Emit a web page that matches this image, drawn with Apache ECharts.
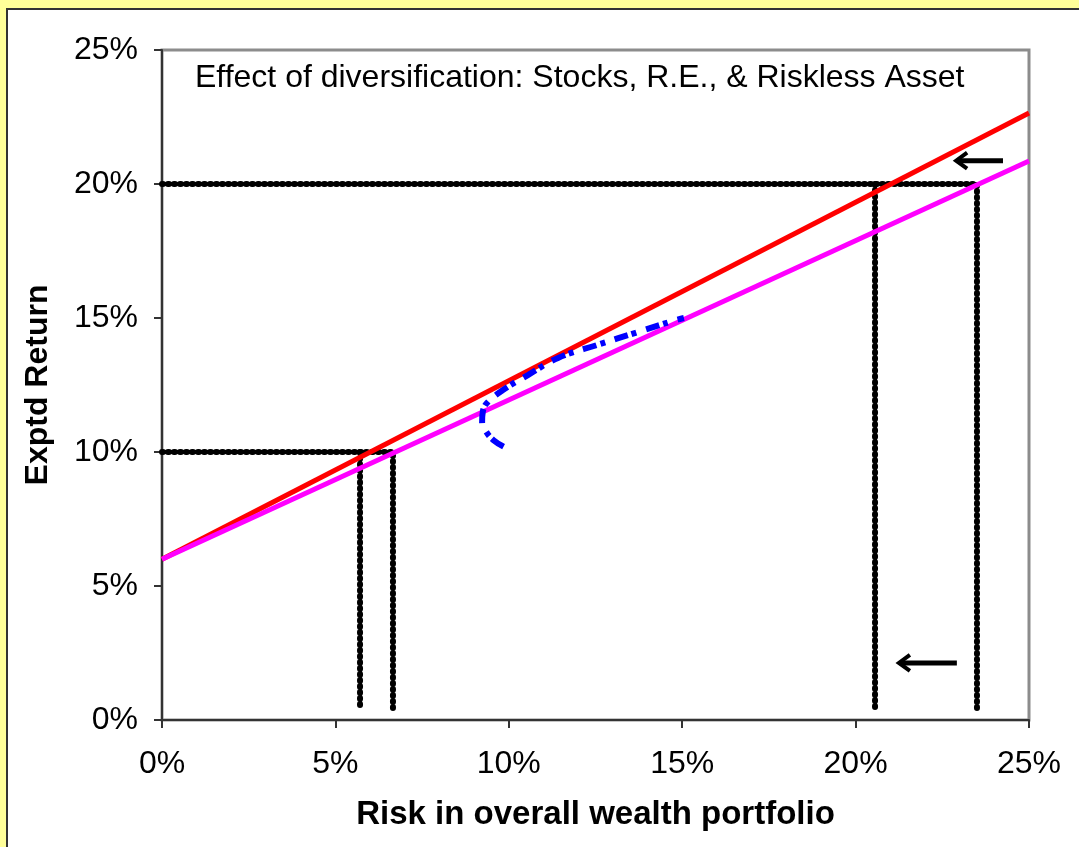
<!DOCTYPE html>
<html>
<head>
<meta charset="utf-8">
<script src="https://cdn.jsdelivr.net/npm/echarts@6/dist/echarts.min.js"></script>
<style>
  html, body { margin: 0; padding: 0; background: #ffff99; }
  #chart { width: 1079px; height: 847px; }
</style>
</head>
<body>
<div id="chart"></div>
<script>
// risk (%) on x, expected return (%) on y
const redLine = [[0, 6], [25, 22.65]];
const magentaLine = [[0, 6], [25, 20.86]];
const frontier = [[9.85, 10.2], [9.55, 10.45], [9.35, 10.75], [9.23, 11.1], [9.25, 11.5], [9.37, 11.83],
  [9.83, 12.31], [10.55, 12.87], [11.42, 13.51], [12.54, 13.99], [13.73, 14.48], [14.73, 14.89], [15.05, 15.0]];
const guide10a = [[0, 10], [6.66, 10], [6.66, 0.45]];
const guide10b = [[5.71, 10], [5.71, 0.45]];
const guide20a = [[0, 20], [23.5, 20], [23.5, 0.45]];
const guide20b = [[20.56, 20], [20.56, 0.45]];
// [tail x, tip x, y]
const arrows = [[24.25, 22.87, 20.87], [22.92, 21.22, 2.13]];

const titleText = 'Effect of diversification: Stocks, R.E., & Riskless Asset';
const xName = 'Risk in overall wealth portfolio';
const yName = 'Exptd Return';

const FONT = '"Liberation Sans", Arial, sans-serif';

const chart = echarts.init(document.getElementById('chart'));

function dotted(data) {
  return {
    type: 'line', data: data, symbol: 'none', silent: true, z: 3,
    lineStyle: { color: '#000', width: 6, type: [1, 5], cap: 'round' }
  };
}

chart.setOption({
  backgroundColor: '#ffff99',
  animation: false,
  graphic: [{
    type: 'rect', z: -10,
    shape: { x: 7, y: 9, width: 1100, height: 900 },
    style: { fill: '#fff', stroke: '#333', lineWidth: 2 }
  }],
  title: {
    text: titleText, left: 195, top: 62, padding: 0,
    textStyle: { fontFamily: FONT, fontSize: 32, fontWeight: 'normal', color: '#000' }
  },
  grid: {
    left: 162, right: 50, top: 50, bottom: 127,
    show: true, borderColor: '#8c8c8c', borderWidth: 3
  },
  xAxis: {
    type: 'value', min: 0, max: 25, interval: 5,
    name: xName, nameLocation: 'middle', nameGap: 78,
    nameTextStyle: { fontFamily: FONT, fontSize: 33, fontWeight: 'bold', color: '#000' },
    axisLine: { lineStyle: { color: '#333', width: 2 } },
    axisTick: { length: 8, lineStyle: { color: '#333', width: 2 } },
    axisLabel: { margin: 28, formatter: '{value}%', fontFamily: FONT, fontSize: 32, color: '#000' },
    splitLine: { show: false }
  },
  yAxis: {
    type: 'value', min: 0, max: 25, interval: 5,
    name: yName, nameLocation: 'middle', nameGap: 108, nameRotate: 90,
    nameTextStyle: { fontFamily: FONT, fontSize: 32, fontWeight: 'bold', color: '#000' },
    axisLine: { show: true, lineStyle: { color: '#333', width: 2 } },
    axisTick: { show: true, length: 8, lineStyle: { color: '#333', width: 2 } },
    axisLabel: { margin: 24, formatter: '{value}%', fontFamily: FONT, fontSize: 32, color: '#000' },
    splitLine: { show: false }
  },
  series: [
    dotted(guide10a), dotted(guide10b), dotted(guide20a), dotted(guide20b),
    {
      type: 'line', data: redLine, symbol: 'none', z: 4,
      lineStyle: { color: '#ff0000', width: 5 }
    },
    {
      type: 'line', data: magentaLine, symbol: 'none', z: 4,
      lineStyle: { color: '#ff00ff', width: 5 }
    },
    {
      type: 'line', data: frontier, symbol: 'none', smooth: 0.4, z: 5,
      lineStyle: { color: '#0000ff', width: 6, type: [14, 4, 5, 10] }
    },
    {
      type: 'custom', data: arrows, z: 6,
      encode: { x: [0, 1], y: 2 },
      renderItem: function (params, api) {
        const tail = api.coord([api.value(0), api.value(2)]);
        const tip = api.coord([api.value(1), api.value(2)]);
        return {
          type: 'group',
          children: [
            { type: 'polyline', shape: { points: [tail, [tip[0] + 2, tip[1]]] },
              style: { stroke: '#000', lineWidth: 5, fill: null } },
            { type: 'polyline',
              shape: { points: [[tip[0] + 12, tip[1] - 8], [tip[0] + 1, tip[1]], [tip[0] + 12, tip[1] + 8]] },
              style: { stroke: '#000', lineWidth: 4, fill: null, lineJoin: 'miter' } }
          ]
        };
      }
    }
  ]
});
</script>
</body>
</html>
